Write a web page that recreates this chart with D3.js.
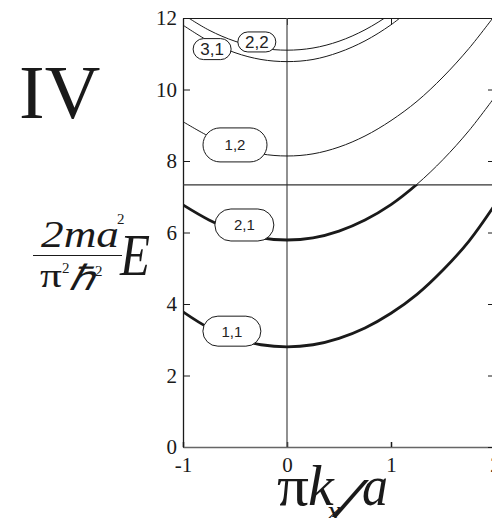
<!DOCTYPE html>
<html>
<head>
<meta charset="utf-8">
<script src="https://cdn.jsdelivr.net/npm/d3@7"></script>
<style>
  body { margin: 0; background: #fff; }
  svg { display: block; }
</style>
</head>
<body>
<svg id="chart" width="492" height="518"></svg>
<script>
// Sub-band dispersion E(k) for the lowest (n1,n2) levels, in units of pi^2 hbar^2 / 2 m a^2
const kValues = [-1, -0.75, -0.5, -0.25, 0, 0.25, 0.5, 0.75, 1, 1.25, 1.5, 1.75, 2];
const band11 = [3.78, 3.33, 3.04, 2.86, 2.80, 2.86, 3.04, 3.33, 3.74, 4.27, 4.95, 5.76, 6.78];
const band21 = [6.77, 6.35, 6.04, 5.85, 5.79, 5.85, 6.04, 6.35, 6.78, 7.35, 8.04, 8.85, 9.80];
const band12 = [9.10, 8.69, 8.38, 8.20, 8.14, 8.20, 8.39, 8.70, 9.13, 9.67, 10.35, 11.15, 12.08];
const band31 = [11.80, 11.35, 11.03, 10.84, 10.78, 10.84, 11.04, 11.36, 11.81, 12.39];
const band22 = [12.10, 11.66, 11.35, 11.16, 11.10, 11.16, 11.35, 11.67, 12.12, 12.69];
const bandNames = ["1,1", "2,1", "1,2", "3,1", "2,2"];
const fermiEnergy = 7.33;
const xTickValues = [-1, 0, 1, 2];
const yTickValues = [0, 2, 4, 6, 8, 10, 12];

const bands = [band11, band21, band12, band31, band22].map((vals, i) => ({
  name: bandNames[i],
  points: vals.map((e, j) => ({ k: kValues[j], e }))
}));

// Where each band's name tag sits (data coords) and how big it is
const tagLayout = {
  "1,1": { k: -0.53, e: 3.24, w: 58, h: 30, fs: 15 },
  "2,1": { k: -0.41, e: 6.21, w: 59, h: 32, fs: 15 },
  "1,2": { k: -0.50, e: 8.45, w: 64, h: 34, fs: 15 },
  "3,1": { k: -0.72, e: 11.13, w: 38, h: 21, fs: 17 },
  "2,2": { k: -0.29, e: 11.33, w: 38, h: 20, fs: 17 }
};

const svg = d3.select("#chart");
const plotL = 183, plotR = 495, plotT = 18, plotB = 447;
const x = d3.scaleLinear().domain([-1, 2]).range([plotL, plotR]);
const y = d3.scaleLinear().domain([0, 12]).range([plotB, plotT]);
const ink = "#1a1a1a";
const serif = "'Liberation Serif', 'Times New Roman', serif";

const defs = svg.append("defs");
defs.append("clipPath").attr("id", "plotClip")
  .append("rect").attr("x", plotL).attr("y", plotT)
  .attr("width", plotR - plotL).attr("height", plotB - plotT);
// occupied states: everything below the Fermi level
defs.append("clipPath").attr("id", "belowFermi")
  .append("rect").attr("x", plotL).attr("y", y(fermiEnergy))
  .attr("width", plotR - plotL).attr("height", plotB - y(fermiEnergy));

// Axes with inward ticks on all four sides
const axisFont = g => g.selectAll("text")
  .attr("font-family", serif).attr("font-size", 21).attr("fill", ink);

const gLeft = svg.append("g").attr("transform", `translate(${plotL},0)`)
  .call(d3.axisLeft(y).tickValues(yTickValues).tickFormat(d3.format("d"))
    .tickSizeInner(-7).tickSizeOuter(0).tickPadding(6));
gLeft.call(axisFont);
gLeft.select(".domain").attr("stroke", ink).attr("stroke-width", 1.3);
gLeft.selectAll(".tick line").attr("stroke", ink);

const gBottom = svg.append("g").attr("transform", `translate(0,${plotB})`)
  .call(d3.axisBottom(x).tickValues(xTickValues).tickFormat(d3.format("d"))
    .tickSizeInner(-5).tickSizeOuter(0).tickPadding(10));
gBottom.call(axisFont);
gBottom.selectAll("text").text(d => d < 0 ? "-" + Math.abs(d) : d);
gBottom.select(".domain").attr("stroke", "#666").attr("stroke-width", 1.6);
gBottom.selectAll(".tick line").attr("stroke", ink).attr("stroke-width", 1.5);

const gTop = svg.append("g").attr("transform", `translate(0,${plotT})`)
  .call(d3.axisTop(x).tickValues(xTickValues).tickFormat("")
    .tickSizeInner(-7).tickSizeOuter(0));
gTop.select(".domain").attr("stroke", ink).attr("stroke-width", 1.2);
gTop.selectAll(".tick line").attr("stroke", ink);

const gRight = svg.append("g").attr("transform", `translate(${plotR},0)`)
  .call(d3.axisRight(y).tickValues(yTickValues).tickFormat("")
    .tickSizeInner(-7).tickSizeOuter(0));
gRight.select(".domain").attr("stroke", ink);
gRight.selectAll(".tick line").attr("stroke", ink);

// k = 0 and the Fermi level
svg.append("line")
  .attr("x1", x(0)).attr("x2", x(0)).attr("y1", plotT).attr("y2", plotB)
  .attr("stroke", "#555").attr("stroke-width", 1.3);
svg.append("line")
  .attr("x1", plotL).attr("x2", plotR).attr("y1", y(fermiEnergy)).attr("y2", y(fermiEnergy))
  .attr("stroke", "#333").attr("stroke-width", 1.2);

// Dispersion curves: thin everywhere, heavy where the states are filled
const line = d3.line().x(d => x(d.k)).y(d => y(d.e)).curve(d3.curveCatmullRom);
const curves = svg.append("g").attr("clip-path", "url(#plotClip)");
curves.selectAll("path.thin").data(bands).join("path")
  .attr("class", "thin").attr("d", d => line(d.points))
  .attr("fill", "none").attr("stroke", ink).attr("stroke-width", 1);
const heavy = svg.append("g").attr("clip-path", "url(#belowFermi)");
heavy.selectAll("path.thick").data(bands).join("path")
  .attr("class", "thick").attr("d", d => line(d.points))
  .attr("fill", "none").attr("stroke", ink).attr("stroke-width", 2.8);

// Band name tags
const tags = svg.append("g").selectAll("g").data(bands).join("g")
  .attr("transform", d => `translate(${x(tagLayout[d.name].k)},${y(tagLayout[d.name].e)})`);
tags.append("rect")
  .attr("x", d => -tagLayout[d.name].w / 2).attr("y", d => -tagLayout[d.name].h / 2)
  .attr("width", d => tagLayout[d.name].w).attr("height", d => tagLayout[d.name].h)
  .attr("rx", d => tagLayout[d.name].h / 2).attr("ry", d => tagLayout[d.name].h / 2)
  .attr("fill", "#fff").attr("stroke", ink).attr("stroke-width", 1);
tags.append("text")
  .attr("text-anchor", "middle").attr("dy", "0.36em")
  .attr("font-family", "'Liberation Sans', Arial, sans-serif")
  .attr("font-size", d => tagLayout[d.name].fs).attr("fill", "#222")
  .text(d => d.name);

// Panel numeral
svg.append("text").attr("x", 19).attr("y", 118)
  .attr("font-family", serif).attr("font-size", 77).attr("fill", ink).text("IV");

// Vertical axis title: 2ma^2 / (pi^2 hbar^2) E
const yt = svg.append("g").attr("font-family", serif).attr("fill", ink);
yt.append("text").attr("x", 41).attr("y", 247).attr("font-size", 37).attr("font-style", "italic")
  .attr("textLength", 78).attr("lengthAdjust", "spacingAndGlyphs").text("2ma");
yt.append("text").attr("x", 117).attr("y", 224).attr("font-size", 15).text("2");
yt.append("line").attr("x1", 33).attr("x2", 122).attr("y1", 255.5).attr("y2", 255.5)
  .attr("stroke", ink).attr("stroke-width", 1);
yt.append("text").attr("x", 40).attr("y", 287).attr("font-size", 33)
  .attr("textLength", 22).attr("lengthAdjust", "spacingAndGlyphs").text("π");
yt.append("text").attr("x", 62).attr("y", 273).attr("font-size", 15).text("2");
yt.append("text").attr("x", 69).attr("y", 290).attr("font-size", 35).attr("font-style", "italic")
  .attr("textLength", 26).attr("lengthAdjust", "spacingAndGlyphs").text("ℏ");
yt.append("text").attr("x", 95).attr("y", 276).attr("font-size", 15).text("2");
yt.append("text").attr("x", 120).attr("y", 275).attr("font-size", 60).attr("font-style", "italic")
  .attr("textLength", 30).attr("lengthAdjust", "spacingAndGlyphs").text("E");

// Horizontal axis title: pi k_x / a
const xt = svg.append("g").attr("font-family", serif).attr("fill", ink);
xt.append("text").attr("x", 277).attr("y", 505).attr("font-size", 56)
  .attr("textLength", 32).attr("lengthAdjust", "spacingAndGlyphs").text("π");
xt.append("text").attr("x", 308).attr("y", 505).attr("font-size", 58).attr("font-style", "italic").text("k");
xt.append("text").attr("x", 327).attr("y", 521).attr("font-size", 30).attr("font-style", "italic").text("x");
xt.append("text").attr("x", 336).attr("y", 516).attr("font-size", 54).attr("font-style", "italic")
  .attr("textLength", 26).attr("lengthAdjust", "spacingAndGlyphs").text("/");
xt.append("text").attr("x", 362).attr("y", 505).attr("font-size", 58).attr("font-style", "italic")
  .attr("textLength", 26).attr("lengthAdjust", "spacingAndGlyphs").text("a");
</script>
</body>
</html>
